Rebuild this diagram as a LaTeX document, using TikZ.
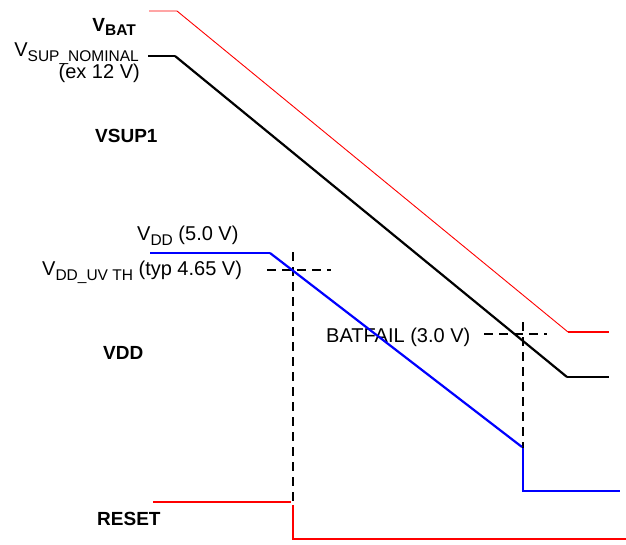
\documentclass[tikz,border=0pt]{standalone}
\usepackage{fontspec}
\setmainfont{Liberation Sans}
\newcommand\sbs[1]{\raisebox{-0.25em}{\fontsize{15.5}{15.5}\selectfont #1}}
\tikzset{
  lbl/.style={inner sep=0pt, font=\fontsize{20}{20}\selectfont},
  blbl/.style={inner sep=0pt, font=\fontsize{19}{19}\selectfont\bfseries},
  thinred/.style={red, line width=0.9pt},
  thick3/.style={line width=2.6pt},
  dsh/.style={black, line width=1.8pt, dash pattern=on 9pt off 6pt}
}
\begin{document}
\begin{tikzpicture}[x=1pt,y=-1pt]
\useasboundingbox (0,0) rectangle (626,544);
% labels
\node[blbl, anchor=base east] (vbat) at (136,31) {V\sbs{BAT}};
\node[lbl, anchor=base east] (vsupn) at (139,56) {V\sbs{SUP\_NOMINAL}};
\node[lbl, anchor=base east] (ex12) at (140,78) {(ex 12 V)};
\node[blbl, anchor=base west] (vsup1) at (95,142) {VSUP1};
\node[lbl, anchor=base west] (vdd5) at (137,240) {V\sbs{DD} (5.0 V)};
\node[lbl, anchor=base west] (vdduv) at (42,275) {V\sbs{DD\_UV TH} (typ 4.65 V)};
\node[blbl, anchor=base west] (vddl) at (103,359) {VDD};
\node[lbl, anchor=base west] (batf) at (326,342) {BATFAIL (3.0 V)};
\node[blbl, anchor=base west] (rst) at (97,525) {RESET};
% waveform coordinates
\coordinate (r0) at (149,11); \coordinate (r1) at (177,11);
\coordinate (r2) at (568,332); \coordinate (r3) at (609,332);
\coordinate (k0) at (148,56); \coordinate (k1) at (175,56);
\coordinate (k2) at (567,377); \coordinate (k3) at (609,377);
\coordinate (b0) at (150,253); \coordinate (b1) at (270,253);
\coordinate (b2) at (522,447); \coordinate (b3) at (523,448);
\coordinate (b4) at (523,491); \coordinate (b5) at (620,491);
\coordinate (s0) at (153,502); \coordinate (s1) at (291,502);
\coordinate (s2) at (293,505); \coordinate (s3) at (293,539);
\coordinate (s4) at (626,539);
\coordinate (d1a) at (293,252); \coordinate (d1b) at (293,517);
\coordinate (d2a) at (267,270); \coordinate (d2b) at (331,270);
\coordinate (d3a) at (484,334); \coordinate (d3b) at (547,334);
\coordinate (d4a) at (523,322); \coordinate (d4b) at (523,459);
% dashed markers
\draw[dsh] (d1a) -- (d1b);
\draw[dsh] (d2a) -- (d2b);
\draw[dsh] (d3a) -- (d3b);
\draw[dsh] (d4a) -- (d4b);
% VBAT
\draw[thinred] (r0) -- (r1) -- (r2);
\draw[red, line width=2.4pt] (r2) -- (r3);
% VSUP
\draw[thick3, black] (k0) -- (k1);
\draw[black, line width=2.2pt] (k1) -- (k2);
\draw[thick3, black] (k2) -- (k3);
% VDD
\draw[thick3, blue] (b0) -- (b1);
\draw[blue, line width=2.2pt] (b1) -- (b2);
\draw[thick3, blue] (b3) -- (b4) -- (b5);
% RESET
\draw[thick3, red] (s0) -- (s1);
\draw[thick3, red] (s2) -- (s3) -- (s4);
\end{tikzpicture}
\end{document}
